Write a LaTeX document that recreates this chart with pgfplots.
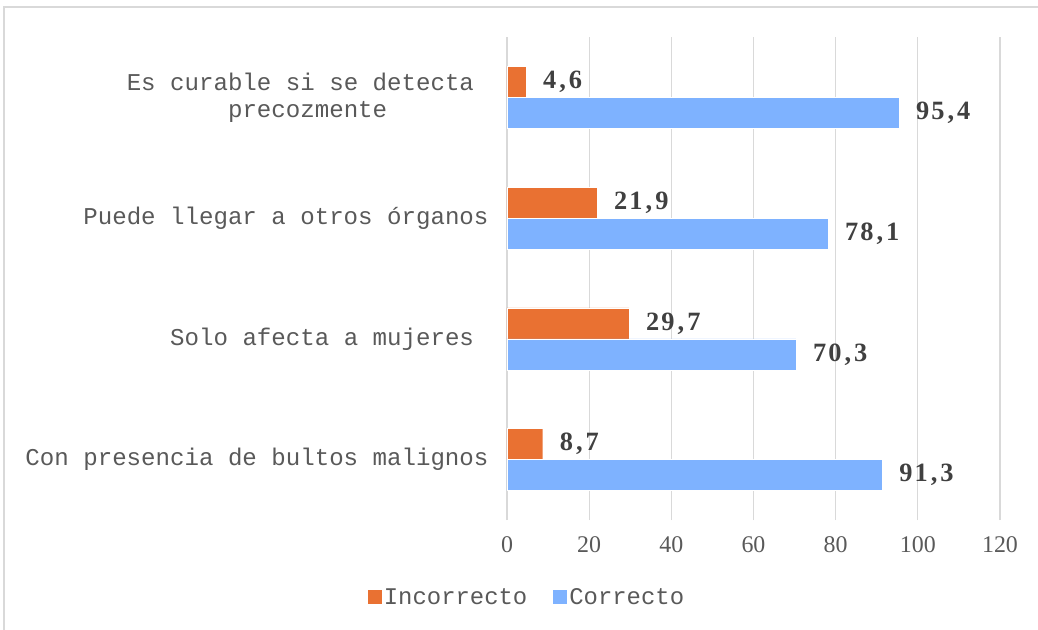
\documentclass[border=0pt]{standalone}
\usepackage{fontspec}
\usepackage{pgfplots}
\pgfplotsset{compat=1.18}
\setmainfont{Liberation Serif}
\newfontfamily\monofont{Liberation Mono}
\newfontfamily\numfont[LetterSpace=8]{Liberation Serif}
\newcommand{\dsep}{\kern3bp,\kern3bp}
\definecolor{corange}{RGB}{233,113,50}
\definecolor{cblue}{RGB}{126,178,255}
\definecolor{labgray}{RGB}{89,89,89}
\definecolor{numgray}{RGB}{64,64,64}
\definecolor{gridgray}{RGB}{217,217,217}
\begin{document}
\begin{tikzpicture}
\useasboundingbox (-507bp,-110bp) rectangle (531bp,520bp);
\draw[gridgray, line width=1.2bp] (-503bp,-115bp) -- (-503bp,513bp) -- (535bp,513bp);
\begin{axis}[
  at={(0,0)}, anchor=south west,
  scale only axis, width=493bp, height=483bp,
  xbar, xmin=0, xmax=120, ymin=-0.5, ymax=3.5,
  xtick={0,20,...,120}, ytick={0,1,2,3},
  yticklabels={Con presencia de bultos malignos, Solo afecta a mujeres\phantom{x}, Puede llegar a otros órganos, {Es curable si se detecta\phantom{x}\\precozmente}},
  yticklabel style={font=\monofont\fontsize{24.2}{27}\selectfont, text=labgray, align=center, xshift=-15bp},
  xticklabel style={font=\fontsize{24}{27}\selectfont, text=labgray, yshift=-13bp},
  /pgf/number format/assume math mode=true,
  axis line style={draw=none}, major tick length=0pt,
  xmajorgrids, grid style={gridgray, line width=1.3bp},
  bar width=31bp,
  point meta=explicit symbolic,
  nodes near coords,
  every node near coord/.append style={font=\numfont\bfseries\fontsize{26.5}{28}\selectfont, text=numgray, anchor=west, inner sep=0pt, xshift=17bp},
  legend style={at={(axis description cs:0.0406,-0.159)}, anchor=center, draw=none, legend columns=2,
    font=\monofont\fontsize{24}{27}\selectfont, text=labgray,
    /tikz/every even column/.append style={column sep=24bp}},
  legend image code/.code={\fill[#1,draw=none] (0bp,-7bp) rectangle (14bp,7bp);},
]
\addplot[fill=corange, draw=white, line width=0.4bp, bar shift=15.5bp] coordinates {(8.7,0) [8\dsep7] (29.7,1) [29\dsep7] (21.9,2) [21\dsep9] (4.6,3) [4\dsep6]};
\addplot[fill=cblue, draw=white, line width=0.4bp, bar shift=-15.5bp] coordinates {(91.3,0) [91\dsep3] (70.3,1) [70\dsep3] (78.1,2) [78\dsep1] (95.4,3) [95\dsep4]};
\legend{Incorrecto, Correcto}
\end{axis}
\end{tikzpicture}
\end{document}
